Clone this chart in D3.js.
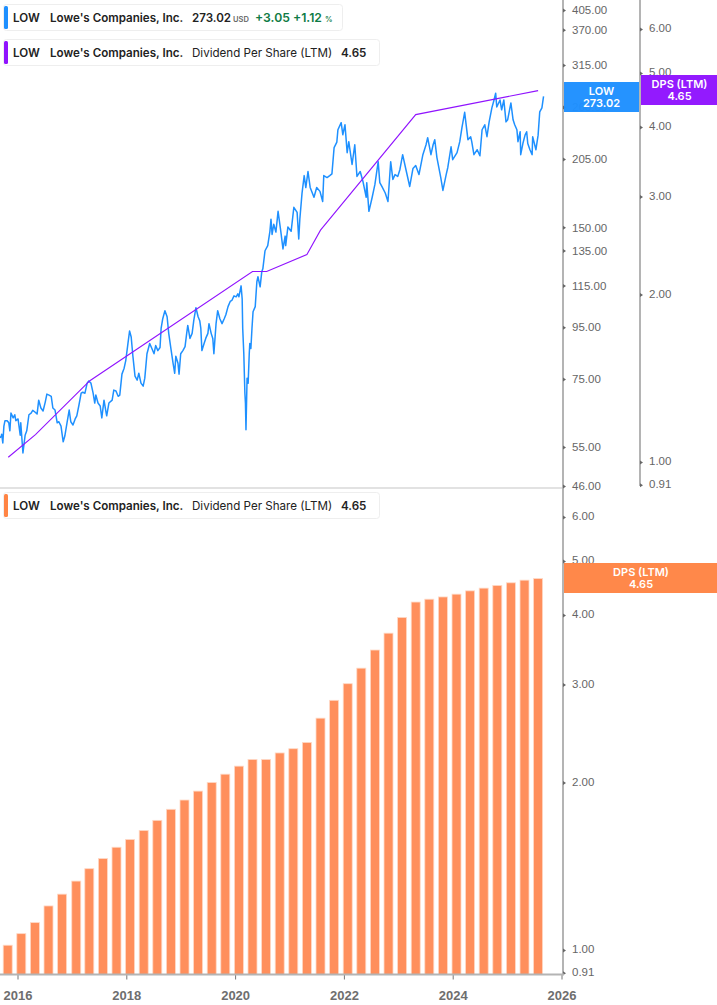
<!DOCTYPE html>
<html>
<head>
<meta charset="utf-8">
<title>LOW - Dividend Per Share (LTM)</title>
<script src="https://d3js.org/d3.v7.min.js"></script>
<style>
  html, body { margin: 0; padding: 0; background: #fff; }
  svg { display: block; font-family: Inter, "Noto Sans", sans-serif; }
  .tick text { fill: #666; font-size: 11.5px; }
  .xaxis .tick text { font-size: 13px; font-weight: 700; fill: #6e6e6e; }
  .legend text { font-size: 11.6px; fill: #222; }
  .badge text { font-size: 11px; font-weight: 600; fill: #fff; text-anchor: middle; }
</style>
</head>
<body>
<svg id="chart" width="717" height="1005"></svg>
<script>
const tickYears = [2016, 2018, 2020, 2022, 2024, 2026];
const priceTicks = [405, 370, 315, 260, 205, 150, 135, 115, 95, 75, 55, 46];
const dpsTicks = [6, 5, 4, 3, 2, 1, 0.91];

// fiscal quarter ends, as decimal years
const dpsYears = [2015.82, 2016.07, 2016.32, 2016.57, 2016.82, 2017.08, 2017.32, 2017.57, 2017.82, 2018.07,
  2018.32, 2018.57, 2018.82, 2019.07, 2019.32, 2019.57, 2019.82, 2020.07, 2020.32, 2020.57,
  2020.82, 2021.07, 2021.32, 2021.57, 2021.82, 2022.07, 2022.32, 2022.57, 2022.82, 2023.07,
  2023.32, 2023.57, 2023.82, 2024.07, 2024.32, 2024.57, 2024.82, 2025.07, 2025.32, 2025.57];
const dpsValues = [1.02, 1.07, 1.12, 1.20, 1.26, 1.33, 1.40, 1.46, 1.53, 1.58,
  1.64, 1.71, 1.79, 1.86, 1.93, 2.00, 2.07, 2.14, 2.20, 2.20,
  2.26, 2.30, 2.36, 2.61, 2.81, 3.01, 3.21, 3.46, 3.71, 3.96,
  4.22, 4.27, 4.31, 4.36, 4.42, 4.47, 4.52, 4.57, 4.62, 4.65];

// the line pane only has these dividend points
const dpsLineYears = [2015.83, 2016.33, 2017.33, 2020.32, 2020.58, 2021.32, 2021.57, 2023.32, 2025.57];
const dpsLineValues = [1.02, 1.12, 1.40, 2.20, 2.20, 2.36, 2.61, 4.21, 4.65];

const priceYears = [2015.68, 2015.70, 2015.71, 2015.73, 2015.75, 2015.77, 2015.81, 2015.84, 2015.86, 2015.88, 2015.92, 2015.95, 2015.97,
  2016.01, 2016.05, 2016.06, 2016.10, 2016.14, 2016.17, 2016.21, 2016.25, 2016.28, 2016.32, 2016.36, 2016.39, 2016.43, 2016.47, 2016.51, 2016.54, 2016.58, 2016.62, 2016.65, 2016.69, 2016.73, 2016.76, 2016.80, 2016.82, 2016.84, 2016.87, 2016.91, 2016.95, 2016.98,
  2017.02, 2017.06, 2017.09, 2017.13, 2017.17, 2017.20, 2017.24, 2017.28, 2017.31, 2017.35, 2017.39, 2017.42, 2017.44, 2017.48, 2017.52, 2017.55, 2017.59, 2017.63, 2017.64, 2017.68, 2017.74, 2017.77, 2017.81, 2017.85, 2017.88, 2017.92, 2017.96, 2017.99,
  2018.03, 2018.06, 2018.09, 2018.12, 2018.16, 2018.20, 2018.23, 2018.27, 2018.31, 2018.34, 2018.38, 2018.43, 2018.47, 2018.51, 2018.54, 2018.58, 2018.62, 2018.64, 2018.67, 2018.71, 2018.75, 2018.78, 2018.82, 2018.86, 2018.89, 2018.91, 2018.95, 2018.97,
  2019.00, 2019.04, 2019.08, 2019.11, 2019.13, 2019.17, 2019.21, 2019.24, 2019.28, 2019.32, 2019.35, 2019.37, 2019.39, 2019.43, 2019.46, 2019.50, 2019.52, 2019.56, 2019.59, 2019.61, 2019.65, 2019.68, 2019.72, 2019.76, 2019.80, 2019.83, 2019.87, 2019.91, 2019.94, 2019.98,
  2020.02, 2020.05, 2020.07, 2020.11, 2020.13, 2020.14, 2020.16, 2020.18, 2020.19, 2020.20, 2020.22, 2020.24, 2020.26, 2020.27, 2020.29, 2020.31, 2020.33, 2020.37, 2020.40, 2020.42, 2020.46, 2020.49, 2020.51, 2020.55, 2020.60, 2020.64, 2020.66, 2020.68, 2020.71, 2020.75, 2020.79, 2020.84, 2020.88, 2020.92, 2020.93, 2020.97,
  2021.03, 2021.08, 2021.14, 2021.17, 2021.19, 2021.23, 2021.27, 2021.30, 2021.34, 2021.38, 2021.45, 2021.50, 2021.56, 2021.61, 2021.63, 2021.69, 2021.74, 2021.78, 2021.82, 2021.87, 2021.89, 2021.95, 2021.98,
  2022.02, 2022.06, 2022.09, 2022.15, 2022.20, 2022.24, 2022.30, 2022.35, 2022.41, 2022.42, 2022.46, 2022.52, 2022.57, 2022.63, 2022.66, 2022.70, 2022.76, 2022.81, 2022.86, 2022.90, 2022.94, 2022.99,
  2023.03, 2023.08, 2023.14, 2023.21, 2023.27, 2023.32, 2023.38, 2023.45, 2023.51, 2023.54, 2023.60, 2023.64, 2023.67, 2023.71, 2023.78, 2023.82, 2023.88, 2023.91, 2023.97,
  2024.00, 2024.08, 2024.13, 2024.17, 2024.22, 2024.28, 2024.33, 2024.35, 2024.39, 2024.45, 2024.50, 2024.54, 2024.59, 2024.63, 2024.67, 2024.72, 2024.76, 2024.79, 2024.81, 2024.87, 2024.90, 2024.94, 2024.98,
  2025.01, 2025.07, 2025.11, 2025.14, 2025.18, 2025.20, 2025.24, 2025.25, 2025.29, 2025.33, 2025.36, 2025.38, 2025.42, 2025.46, 2025.47, 2025.53, 2025.57, 2025.60, 2025.64, 2025.67];
const priceValues = [57.3, 57.8, 58.3, 56.0, 60.5, 62.0, 62.0, 61.4, 59.2, 64.2, 62.8, 63.7, 62.0,
  62.5, 58.0, 61.4, 53.5, 58.0, 59.2, 63.7, 64.2, 65.0, 64.5, 63.9, 68.1, 65.7, 64.8, 67.5, 70.0, 69.7, 69.3, 65.7, 65.1, 61.4, 61.7, 60.5, 58.3, 56.3, 57.8, 61.4, 65.1, 61.7,
  60.8, 62.5, 63.4, 66.6, 70.3, 70.6, 70.3, 73.6, 74.3, 73.6, 70.3, 67.2, 69.7, 67.2, 66.3, 62.8, 68.1, 64.2, 63.4, 67.2, 68.1, 71.3, 71.0, 69.3, 69.7, 76.7, 78.8, 81.6,
  88.2, 93.4, 90.9, 83.5, 76.0, 74.6, 77.0, 73.6, 72.6, 75.3, 84.2, 88.2, 86.2, 84.2, 87.4, 85.4, 86.6, 94.5, 98.8, 102.5, 99.7, 92.4, 86.2, 80.6, 77.0, 83.2, 80.6, 76.7,
  84.2, 85.4, 87.0, 92.4, 95.8, 90.3, 92.4, 97.9, 103.9, 99.7, 97.9, 94.5, 85.4, 88.2, 90.3, 92.4, 96.6, 92.4, 90.3, 84.2, 96.6, 102.5, 98.8, 96.6, 98.8, 100.6, 104.4, 106.9, 107.4, 109.7,
  109.2, 110.7, 109.2, 114.8, 108.2, 94.5, 84.2, 70.3, 67.2, 59.5, 75.3, 73.6, 84.2, 88.2, 86.2, 94.5, 102.0, 104.4, 117.0, 119.7, 114.3, 122.4, 124.1, 134.8, 138.0, 147.3, 155.7, 145.2, 152.1, 146.8, 161.4, 147.3, 135.9, 144.1, 138.0, 150.2,
  147.3, 164.4, 160.6, 142.2, 155.7, 175.2, 190.0, 179.9, 193.6, 180.0, 172.1, 180.0, 176.8, 168.8, 190.0, 188.3, 190.0, 191.5, 215.9, 221.4, 234.3, 242.0, 229.0,
  239.7, 211.0, 221.9, 199.9, 218.8, 189.3, 193.6, 185.0, 172.1, 184.0, 161.4, 172.1, 182.5, 202.5, 184.0, 180.6, 175.5, 168.8, 202.5, 186.7, 190.9, 189.3,
  195.4, 209.1, 195.4, 180.8, 196.3, 199.0, 190.9, 208.7, 218.8, 226.0, 209.1, 218.8, 223.9, 206.3, 188.4, 177.6, 190.9, 197.2, 216.8,
  204.4, 211.0, 221.9, 236.7, 253.7, 223.9, 227.0, 221.9, 209.1, 213.9, 208.0, 234.3, 239.7, 227.0, 243.0, 258.9, 268.4, 276.9, 260.0, 268.4, 256.6, 268.4, 242.9,
  245.2, 264.8, 245.2, 239.7, 234.3, 221.9, 232.2, 209.1, 220.0, 228.6, 232.2, 220.0, 213.9, 209.1, 227.0, 213.9, 228.6, 254.3, 258.9, 273.02];

const lastPrice = 273.02, lastDps = 4.65;
const blue = '#1e90ff', purple = '#9013fe', orange = '#ff8444', barFill = '#ff8f5c', axisGrey = '#b4b4b4';

const svg = d3.select('#chart');
const plotRight = 563, dpsAxisX = 640, topBottom = 488, plotBottom = 974.5;

const x = d3.scaleLinear().domain([2016, 2026]).range([17.5, 561.5]);
const yPrice = d3.scaleLog().domain([46, 405]).range([486, 10]);
const yDpsTop = d3.scaleLog().domain([1, 6]).range([462, 29]);
const yDpsBottom = d3.scaleLog().domain([1, 6]).range([950, 517]);

// hairline between the panes
svg.append('line').attr('x1', 0).attr('x2', plotRight).attr('y1', topBottom).attr('y2', topBottom)
  .attr('stroke', '#e2e2e2').attr('stroke-width', 2);

function styleAxis(g) {
  g.select('.domain').remove();
  g.selectAll('.tick line').remove();
  g.selectAll('.tick').append('path').attr('d', 'M0,-2L3,0L0,2Z').attr('fill', '#666');
}

function axisLine(x0, y0, y1) {
  svg.append('line').attr('x1', x0).attr('x2', x0).attr('y1', y0).attr('y2', y1)
    .attr('stroke', axisGrey).attr('stroke-width', 2);
}

// right hand axes
axisLine(plotRight, 0, topBottom);
axisLine(dpsAxisX, 0, 486);
axisLine(plotRight, topBottom, plotBottom);

svg.append('g').attr('transform', `translate(${plotRight},0)`)
  .call(d3.axisRight(yPrice).tickValues(priceTicks).tickFormat(d3.format('.2f')).tickPadding(3))
  .call(styleAxis);
svg.append('g').attr('transform', `translate(${dpsAxisX},0)`)
  .call(d3.axisRight(yDpsTop).tickValues(dpsTicks).tickFormat(d3.format('.2f')).tickPadding(3))
  .call(styleAxis)
  .selectAll('.tick text').attr('dy', '0.22em');
svg.append('g').attr('transform', `translate(${plotRight},0)`)
  .call(d3.axisRight(yDpsBottom).tickValues(dpsTicks).tickFormat(d3.format('.2f')).tickPadding(3))
  .call(styleAxis)
  .selectAll('.tick text').attr('dy', '0.22em');

// price + dps lines
const priceLine = d3.line().x(d => x(d[0])).y(d => yPrice(d[1]));
svg.append('path')
  .datum(d3.zip(priceYears, priceValues))
  .attr('d', priceLine)
  .attr('fill', 'none').attr('stroke', blue).attr('stroke-width', 1.5).attr('stroke-linejoin', 'round');

const dpsLine = d3.line().x(d => x(d[0])).y(d => yDpsTop(d[1]));
svg.append('path')
  .datum(d3.zip(dpsLineYears, dpsLineValues))
  .attr('d', dpsLine)
  .attr('fill', 'none').attr('stroke', purple).attr('stroke-width', 1.1);

// dps bars
svg.append('g').selectAll('rect')
  .data(d3.zip(dpsYears, dpsValues))
  .join('rect')
  .attr('x', d => x(d[0]) - 4.5)
  .attr('width', 9)
  .attr('y', d => yDpsBottom(d[1]))
  .attr('height', d => plotBottom - yDpsBottom(d[1]))
  .attr('fill', barFill)
  .attr('stroke', '#ffd9c6').attr('stroke-width', 0.8);

// time axis
const xAxis = svg.append('g').attr('class', 'xaxis').attr('transform', `translate(0,${plotBottom})`)
  .call(d3.axisBottom(x).tickValues(tickYears).tickFormat(d3.format('d')).tickSize(5).tickPadding(11));
xAxis.select('.domain').remove();
xAxis.selectAll('.tick line').attr('stroke', '#777');
svg.append('line').attr('x1', 0).attr('x2', plotRight + 1).attr('y1', plotBottom).attr('y2', plotBottom)
  .attr('stroke', axisGrey).attr('stroke-width', 2);

// value badges
function badge(x0, w, yc, fill, top, bottom) {
  const g = svg.append('g').attr('class', 'badge');
  g.append('rect').attr('x', x0).attr('y', yc - 15).attr('width', w).attr('height', 30)
    .attr('fill', fill).attr('fill-opacity', 0.97);
  g.append('text').attr('x', x0 + w / 2).attr('y', yc - 2).text(top);
  g.append('text').attr('x', x0 + w / 2).attr('y', yc + 10).text(bottom);
}
badge(plotRight + 1, dpsAxisX - plotRight - 2, Math.round(yPrice(lastPrice)) + 1, blue, 'LOW', d3.format('.2f')(lastPrice));
badge(dpsAxisX + 1, 717 - dpsAxisX, Math.round(yDpsTop(lastDps)) - 1, purple, 'DPS (LTM)', d3.format('.2f')(lastDps));
badge(plotRight + 1, 717 - plotRight, Math.round(yDpsBottom(lastDps)) - 1, orange, 'DPS (LTM)', d3.format('.2f')(lastDps));

// legend chips
function legendChip(y0, w, color, parts) {
  const g = svg.append('g').attr('class', 'legend');
  g.append('rect').attr('x', 3.5).attr('y', y0 + 0.5).attr('width', w).attr('height', 26).attr('rx', 3)
    .attr('fill', '#fff').attr('stroke', '#eeeeee');
  g.append('rect').attr('x', 4).attr('y', y0 + 2).attr('width', 4).attr('height', 23).attr('rx', 1.5).attr('fill', color);
  parts.forEach(p => {
    g.append('text').attr('x', p.x).attr('y', y0 + 17.5).text(p.text)
      .style('font-weight', p.weight || 600)
      .style('font-size', p.size || null)
      .style('fill', p.color || null);
  });
}
const green = '#0f7b45';
legendChip(4, 339, blue, [
  { x: 13, text: 'LOW' },
  { x: 50, text: "Lowe's Companies, Inc." },
  { x: 192, text: '273.02' },
  { x: 233, text: 'USD', size: '7.5px', color: '#666' },
  { x: 255, text: '+3.05', size: '12.2px', color: green },
  { x: 293, text: '+1.12', size: '12.2px', color: green },
  { x: 325, text: '%', size: '7.5px', color: green }
]);
const dpsParts = [
  { x: 13, text: 'LOW' },
  { x: 50, text: "Lowe's Companies, Inc." },
  { x: 192, text: 'Dividend Per Share (LTM)', weight: 400 },
  { x: 341, text: '4.65' }
];
legendChip(39, 376, purple, dpsParts);
legendChip(492, 376, orange, dpsParts);
</script>
</body>
</html>
